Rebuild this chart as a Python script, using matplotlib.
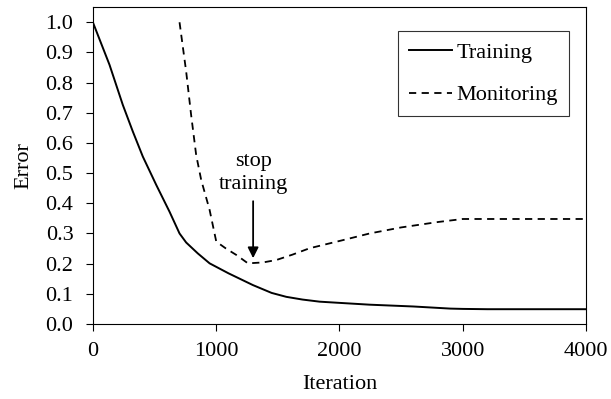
import matplotlib
matplotlib.use('Agg')
import matplotlib.pyplot as plt

plt.rcParams['font.family'] = 'Liberation Serif'

# training error
train_x = [0, 135, 243, 324, 405, 514, 622, 703, 757, 851, 947, 1100, 1298, 1450, 1569, 1700, 1839, 2000, 2245, 2600, 2900, 3000, 3200, 4000]
train_y = [1.0, 0.859, 0.726, 0.638, 0.555, 0.461, 0.372, 0.300, 0.270, 0.234, 0.201, 0.168, 0.129, 0.103, 0.090, 0.081, 0.074, 0.070, 0.064, 0.058, 0.051, 0.050, 0.049, 0.049]

# monitoring error
mon_x = [703, 757, 797, 838, 879, 947, 1001, 1080, 1163, 1258, 1380, 1488, 1620, 1758, 2029, 2245, 2500, 2800, 3000, 4000]
mon_y = [1.0, 0.836, 0.693, 0.560, 0.477, 0.378, 0.273, 0.250, 0.229, 0.201, 0.204, 0.212, 0.230, 0.251, 0.278, 0.300, 0.320, 0.338, 0.348, 0.348]

stop_x = 1300
stop_y = 0.218

fig = plt.figure(figsize=(6.11, 3.99), dpi=100)
ax = fig.add_axes([0.152, 0.188, 0.807, 0.794])

ax.plot(train_x, train_y, color='black', lw=1.4, label='Training')
ax.plot(mon_x, mon_y, color='black', lw=1.3, ls=(0, (4, 3)), label='Monitoring')

ax.annotate('stop\ntraining', xy=(stop_x, stop_y), xytext=(stop_x, 0.43),
            ha='center', va='bottom', fontsize=16, linespacing=1.3,
            arrowprops=dict(arrowstyle='-|>', color='black', lw=1.3,
                            mutation_scale=16, shrinkA=3, shrinkB=0))

ax.set_xlim(0, 4000)
ax.set_ylim(0, 1.05)
ax.set_xticks([0, 1000, 2000, 3000, 4000])
ax.set_yticks([i / 10 for i in range(11)])
ax.set_yticklabels(['%.1f' % (i / 10) for i in range(11)])
ax.tick_params(direction='out', length=5, width=0.8, labelsize=16)
ax.tick_params(axis='y', pad=9)
ax.tick_params(axis='x', pad=8)
for s in ax.spines.values():
    s.set_linewidth(0.8)

ax.set_xlabel('Iteration', fontsize=16, labelpad=10)
ax.set_ylabel('Error', fontsize=16, labelpad=9)

leg = ax.legend(loc='upper right', bbox_to_anchor=(0.966, 0.925), fontsize=16,
                frameon=True, fancybox=False, edgecolor='black',
                handlelength=1.95, handletextpad=0.2, borderpad=0.5, labelspacing=1.0,
                borderaxespad=0)
leg.get_frame().set_linewidth(0.8)

fig.savefig('out.png', dpi=100)
